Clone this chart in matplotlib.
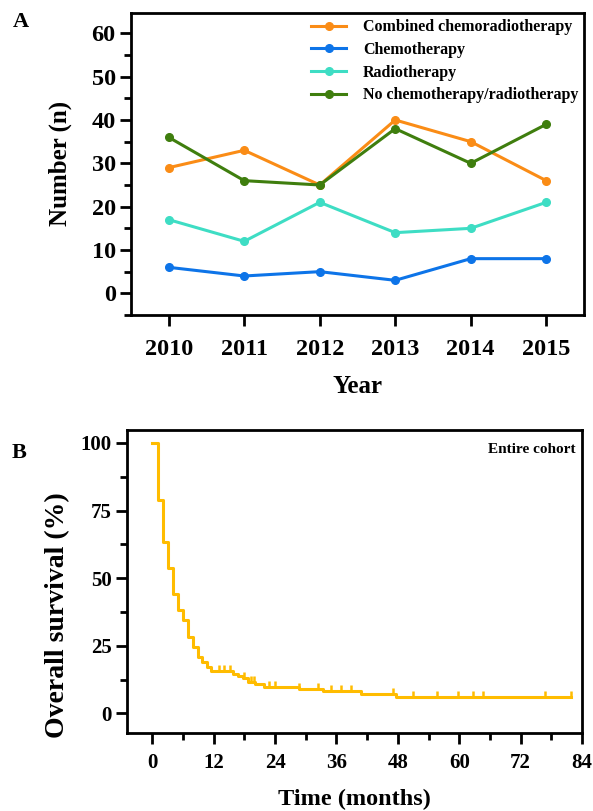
import numpy as np
import matplotlib
matplotlib.use('Agg')
import matplotlib.pyplot as plt
from matplotlib.ticker import MultipleLocator

plt.rcParams['font.family'] = ['Liberation Serif', 'DejaVu Serif']
plt.rcParams['font.weight'] = 'bold'

# Panel A data: number of patients per treatment by year
years = [2010, 2011, 2012, 2013, 2014, 2015]
combined = [29, 33, 25, 40, 35, 26]
chemo = [6, 4, 5, 3, 8, 8]
radio = [17, 12, 21, 14, 15, 21]
no_treatment = [36, 26, 25, 38, 30, 39]
series_names = ['Combined chemoradiotherapy', 'Chemotherapy', 'Radiotherapy',
                'No chemotherapy/radiotherapy']
series_colors = ['#FA8C16', '#0D74E8', '#3EDDC4', '#3F7E0E']

# Panel B data: Kaplan-Meier steps (months, % surviving) and censor times
step_times = [0, 1.1, 2.1, 3.0, 4.0, 5.0, 6.0, 7.0, 7.9, 8.9, 9.8, 10.7, 11.5,
              15.7, 16.7, 17.7, 18.7, 20.0, 21.9, 28.7, 33.3, 40.8, 47.6]
survival = [100, 78.9, 63.4, 53.6, 44.0, 38.1, 34.4, 28.3, 24.6, 20.9, 19.0, 17.1, 15.7,
            14.4, 13.7, 13.0, 11.6, 10.7, 9.7, 9.1, 8.1, 7.3, 6.0]
censor_times = [13.0, 14.0, 15.1, 18.0, 19.2, 19.8, 22.9, 23.9, 28.7, 32.3, 34.9,
                36.9, 38.8, 47.0, 50.9, 55.7, 59.8, 62.7, 64.7, 76.7, 81.9]
end_time = 81.9

fig = plt.figure(figsize=(5.93, 8.11), dpi=100)

# ---------------- Panel A ----------------
axA = fig.add_axes([0.2209, 0.6116, 0.9848 - 0.2209, 0.9843 - 0.6116])
for vals, name, col in zip([combined, chemo, radio, no_treatment], series_names, series_colors):
    axA.plot(years, vals, color=col, lw=2.2, marker='o', ms=5.5, label=name)

axA.set_xlim(2009.5, 2015.5)
axA.set_ylim(-5.0, 64.75)
axA.set_xticks(years)
axA.set_xticklabels([str(y) for y in years])
axA.set_yticks(range(0, 61, 10))
axA.yaxis.set_minor_locator(MultipleLocator(5))
axA.tick_params(axis='both', which='major', direction='out', length=8, width=2,
                labelsize=17.5)
axA.tick_params(axis='x', which='major', pad=9)
axA.tick_params(axis='y', which='major', pad=3)
axA.tick_params(axis='y', which='minor', direction='out', length=5, width=2)
axA.set_xlabel('Year', fontsize=18, fontweight='bold')
axA.set_ylabel('Number (n)', fontsize=18, fontweight='bold')
axA.xaxis.set_label_coords(0.5, -0.2)
axA.yaxis.set_label_coords(-0.13, 0.5)
for s in axA.spines.values():
    s.set_linewidth(2)
axA.legend(loc='upper left', bbox_to_anchor=(0.3836, 1.0), frameon=False,
           prop={'family': 'Liberation Serif', 'weight': 'bold', 'size': 11.5},
           handlelength=2.2, labelspacing=0.42, handletextpad=1.05, borderaxespad=0)

fig.text(0.022, 0.9733, 'A', fontsize=16, fontweight='bold', va='center')

# ---------------- Panel B ----------------
axB = fig.add_axes([0.2137, 0.0958, 0.9814 - 0.2137, 0.4698 - 0.0958])
t_line = step_times + [end_time]
s_line = survival + [survival[-1]]
axB.step(t_line, s_line, where='post', color='#FFBC00', lw=2.2)

# censor marks sit on the curve and point upward
idx = np.searchsorted(step_times, censor_times, side='right') - 1
cens_s = np.array(survival)[idx]
axB.vlines(censor_times, cens_s, cens_s + 2.2, color='#FFBC00', lw=1.8)

axB.set_xlim(-5, 84)
axB.set_ylim(-7.4, 104.8)
axB.set_xticks(range(0, 85, 12))
axB.xaxis.set_minor_locator(MultipleLocator(6))
axB.set_yticks([0, 25, 50, 75, 100])
axB.yaxis.set_minor_locator(MultipleLocator(12.5))
axB.tick_params(axis='both', which='major', direction='out', length=8, width=2,
                labelsize=15)
axB.tick_params(axis='x', which='major', pad=6)
axB.tick_params(axis='y', which='major', pad=3)
axB.tick_params(axis='both', which='minor', direction='out', length=5, width=2)
axB.set_xlabel('Time (months)', fontsize=17.5, fontweight='bold')
axB.set_ylabel('Overall survival (%)', fontsize=20, fontweight='bold')
axB.xaxis.set_label_coords(0.5, -0.182)
axB.yaxis.set_label_coords(-0.1245, 0.39)
for s in axB.spines.values():
    s.set_linewidth(2)
axB.text(0.985, 0.935, 'Entire cohort', transform=axB.transAxes, ha='right', va='center',
         fontsize=11, fontweight='bold')

fig.text(0.02, 0.4414, 'B', fontsize=16, fontweight='bold', va='center')

fig.savefig('out.png', dpi=100)
